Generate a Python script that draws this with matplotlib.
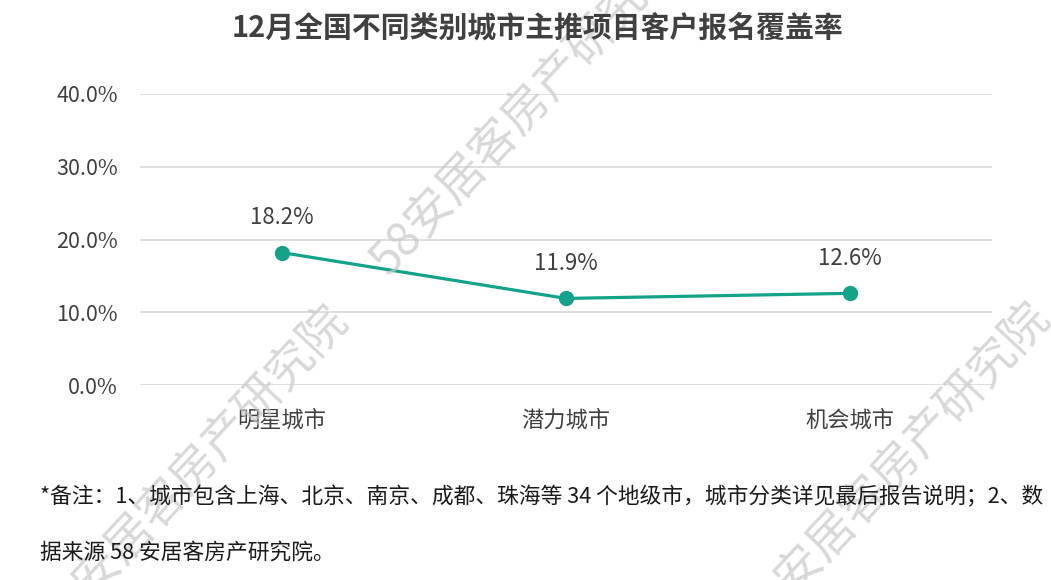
import matplotlib.pyplot as plt
import matplotlib.ticker as mticker

plt.rcParams['font.family'] = ['Noto Sans CJK SC', 'DejaVu Sans']

# data
cities = ['明星城市', '潜力城市', '机会城市']
coverage = [18.2, 11.9, 12.6]  # %
yticks = [0, 10, 20, 30, 40]

title = '12月全国不同类别城市主推项目客户报名覆盖率'
note1 = '*备注：1、城市包含上海、北京、南京、成都、珠海等 34 个地级市，城市分类详见最后报告说明；2、数'
note2 = '据来源 58 安居客房产研究院。'
watermark = '58安居客房产研究院'

line_color = '#12A38A'
text_color = '#404040'

W, H = 1051, 580
fig = plt.figure(figsize=(W / 100, H / 100), dpi=100)
ax = fig.add_axes([140 / W, 1 - 385 / H, 852 / W, 291 / H])

x = list(range(len(cities)))
ax.plot(x, coverage, color=line_color, lw=2.3, marker='o', ms=10, zorder=3)
for xi, v in zip(x, coverage):
    ax.annotate(f'{v:.1f}%', (xi, v), xytext=(0, 25), textcoords='offset points',
                ha='center', va='center', fontsize=16, color=text_color)

ax.set_xlim(-0.5, 2.5)
ax.set_ylim(0, 40)
ax.set_yticks(yticks)
ax.yaxis.set_major_formatter(mticker.FuncFormatter(lambda v, p: f'{v:.1f}%'))
ax.set_xticks(x)
ax.set_xticklabels(cities)
ax.tick_params(axis='both', length=0, labelcolor=text_color)
ax.tick_params(axis='y', pad=16, labelsize=15.5)
ax.tick_params(axis='x', pad=17, labelsize=16)
ax.grid(axis='y', color='#d9d9d9', lw=1.2)
ax.set_axisbelow(True)
for s in ax.spines.values():
    s.set_visible(False)

fig.text(537 / W, 1 - 28 / H, title, ha='center', va='center', fontsize=20.8,
         fontweight='bold', color=text_color)
fig.text(40 / W, 1 - 497 / H, note1, ha='left', va='center', fontsize=15.65, color='#1a1a1a')
fig.text(40 / W, 1 - 553 / H, note2, ha='left', va='center', fontsize=15.65, color='#1a1a1a')

# diagonal watermarks (start points in pixels, text runs up-right)
for px, py in [(47, 628), (379, 268), (749, 625)]:
    fig.text(px / W, 1 - py / H, watermark, ha='left', va='center', rotation=47,
             rotation_mode='anchor', fontsize=34, color='#c8c8c8', alpha=0.7, zorder=0)

fig.savefig('out.png', dpi=100, facecolor='white')
